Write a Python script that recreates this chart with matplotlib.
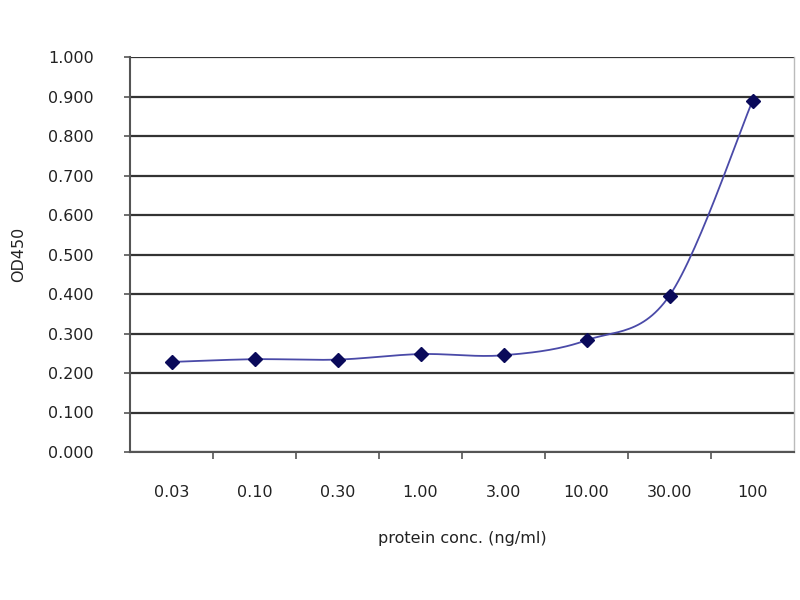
import numpy as np
import matplotlib.pyplot as plt

conc_labels = ['0.03', '0.10', '0.30', '1.00', '3.00', '10.00', '30.00', '100']
od450 = [0.228, 0.235, 0.234, 0.248, 0.245, 0.283, 0.396, 0.889]


def smooth_curve(x, y, steps=30):
    # Catmull-Rom style smoothing, similar to a spreadsheet "smoothed line"
    x = np.asarray(x, float)
    y = np.asarray(y, float)
    px = np.concatenate([[x[0]], x, [x[-1]]])
    py = np.concatenate([[y[0]], y, [y[-1]]])
    xs, ys = [], []
    for i in range(1, len(px) - 2):
        p0, p1, p2, p3 = (np.array([px[j], py[j]]) for j in range(i - 1, i + 3))
        c1 = p1 + (p2 - p0) / 6
        c2 = p2 - (p3 - p1) / 6
        t = np.linspace(0, 1, steps)[:, None]
        pts = ((1 - t) ** 3) * p1 + 3 * ((1 - t) ** 2) * t * c1 + 3 * (1 - t) * t ** 2 * c2 + t ** 3 * p2
        xs.extend(pts[:, 0])
        ys.extend(pts[:, 1])
    return np.array(xs), np.array(ys)


fig = plt.figure(figsize=(8, 6), dpi=100)
ax = fig.add_axes([0.1625, 0.2467, 0.83, 0.658])

xpos = np.arange(len(conc_labels))
sx, sy = smooth_curve(xpos, od450)
ax.plot(sx, sy, color='#4a4aa8', lw=1.3, zorder=3)
ax.plot(xpos, od450, ls='none', marker='D', ms=7, color='#0a0a5a', zorder=4)

ax.set_xlim(-0.5, len(conc_labels) - 0.5)
ax.set_ylim(0, 1.0)
ax.set_yticks(np.arange(0, 1.01, 0.1))
ax.set_yticklabels(['%.3f' % v for v in np.arange(0, 1.01, 0.1)])
ax.yaxis.grid(True, color='#333333', lw=1.6)
ax.set_axisbelow(True)

ax.set_xticks(xpos)
ax.set_xticklabels(conc_labels)
ax.set_xticks(np.arange(0.5, len(conc_labels) - 0.5, 1), minor=True)
ax.tick_params(axis='x', which='major', length=0, pad=24, labelsize=11.5, labelcolor='#222222')
ax.tick_params(axis='x', which='minor', length=5, width=1.2, color='#555555', direction='out')
ax.tick_params(axis='y', length=4, width=1.2, color='#555555', pad=22, labelsize=11.5, labelcolor='#222222')

for side in ['left', 'bottom']:
    ax.spines[side].set_color('#555555')
    ax.spines[side].set_linewidth(1.5)
ax.spines['top'].set_visible(False)
ax.spines['right'].set_color('#bbbbbb')
ax.spines['right'].set_linewidth(1.0)

ax.set_xlabel('protein conc. (ng/ml)', fontsize=11.5, color='#222222', labelpad=22)
ax.set_ylabel('OD450', fontsize=11.5, color='#222222', labelpad=16)

fig.savefig('out.png', dpi=100)
